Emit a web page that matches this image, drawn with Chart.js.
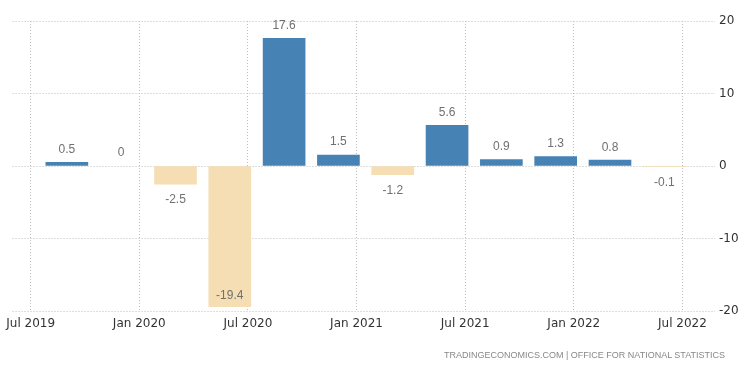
<!DOCTYPE html>
<html>
<head>
<meta charset="utf-8">
<script src="https://cdn.jsdelivr.net/npm/chart.js@4"></script>
<style>
    html, body { margin: 0; padding: 0; background: #fff; }
    #wrap { position: relative; width: 750px; height: 373px; }
    #source {
        position: absolute;
        right: 25px;
        top: 350px;
        font: 9px 'Liberation Sans', Arial, sans-serif;
        color: #888;
        white-space: nowrap;
    }
</style>
</head>
<body>
<div id="wrap">
    <canvas id="gdp-chart"></canvas>
    <div id="source">TRADINGECONOMICS.COM | OFFICE FOR NATIONAL STATISTICS</div>
</div>
<script>
// Quarterly GDP growth (%), bars placed at the last month of each quarter
const quarters = ['2019-09', '2019-12', '2020-03', '2020-06', '2020-09', '2020-12',
                  '2021-03', '2021-06', '2021-09', '2021-12', '2022-03', '2022-06'];
const growth = [0.5, 0, -2.5, -19.4, 17.6, 1.5, -1.2, 5.6, 0.9, 1.3, 0.8, -0.1];
const tickLabels = ['Jul 2019', 'Jan 2020', 'Jul 2020', 'Jan 2021', 'Jul 2021', 'Jan 2022', 'Jul 2022'];
const yTicks = [-20, -10, 0, 10, 20];

// months counted from Jul 2019
function monthIndex(ym) {
    const [y, m] = ym.split('-').map(Number);
    return (y - 2019) * 12 + (m - 7);
}

const points = quarters.map((q, i) => ({ x: monthIndex(q), y: growth[i] }));

// Value labels above / below bars
const valueLabels = {
    id: 'valueLabels',
    afterDatasetsDraw(chart) {
        const ctx = chart.ctx;
        const area = chart.chartArea;
        const meta = chart.getDatasetMeta(0);
        ctx.save();
        ctx.font = '12px "Liberation Sans", Arial, sans-serif';
        ctx.fillStyle = '#707070';
        ctx.textAlign = 'center';
        ctx.textBaseline = 'middle';
        meta.data.forEach((bar, i) => {
            const v = growth[i];
            let y;
            if (v >= 0) {
                y = bar.y - 13;
            } else {
                y = bar.y + 16;
                if (y > area.bottom - 8) y = bar.y - 11;
            }
            ctx.fillText(String(v), bar.x, y);
        });
        ctx.restore();
    }
};

function barColor(v) {
    if (v === 0) return 'rgba(0,0,0,0)';
    return v > 0 ? '#4682b4' : '#f5deb3';
}

new Chart(document.getElementById('gdp-chart'), {
    type: 'bar',
    data: {
        datasets: [{
            data: points,
            backgroundColor: growth.map(barColor),
            borderWidth: 0,
            barThickness: 42
        }]
    },
    options: {
        responsive: true,
        maintainAspectRatio: false,
        animation: false,
        layout: { padding: { left: 9, top: 21, right: 0, bottom: 32 } },
        plugins: {
            legend: { display: false },
            tooltip: { enabled: false }
        },
        scales: {
            x: {
                type: 'linear',
                offset: false,
                min: -1,
                max: 37.8,
                grid: { color: '#bdbdbd', lineWidth: 1, drawTicks: false, offset: false },
                border: { display: false, dash: [1, 2] },
                afterBuildTicks: (scale) => {
                    scale.ticks = tickLabels.map((_, i) => ({ value: i * 6 }));
                },
                afterFit: (scale) => { scale.height = 30; },
                ticks: {
                    padding: 6,
                    color: '#333',
                    font: { family: 'DejaVu Sans', size: 12 },
                    maxRotation: 0,
                    autoSkip: false,
                    callback: (val) => tickLabels[val / 6] || ''
                }
            },
            y: {
                position: 'right',
                min: -20,
                max: 20,
                grid: { color: '#bdbdbd', lineWidth: 1, drawTicks: false },
                border: { display: false, dash: [1, 2] },
                afterBuildTicks: (scale) => {
                    scale.ticks = yTicks.map(v => ({ value: v }));
                },
                afterFit: (scale) => { scale.width = 35; },
                ticks: {
                    padding: 4,
                    color: '#333',
                    font: { family: 'DejaVu Sans', size: 12 }
                }
            }
        }
    },
    plugins: [valueLabels]
});
</script>
</body>
</html>
